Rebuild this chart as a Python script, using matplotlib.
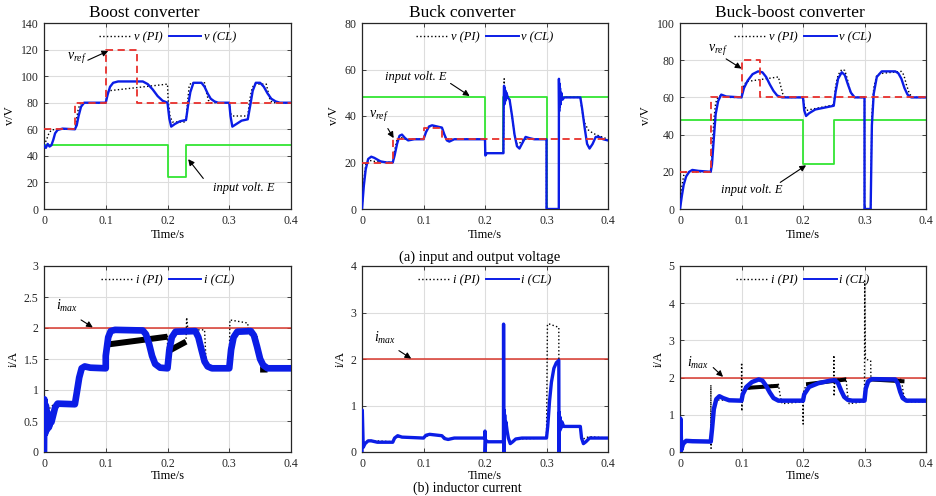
import numpy as np
import matplotlib.pyplot as plt
from matplotlib.lines import Line2D

plt.rcParams['font.family'] = ['Liberation Serif', 'DejaVu Serif']
plt.rcParams['mathtext.fontset'] = 'custom'
plt.rcParams['mathtext.rm'] = 'Liberation Serif'
plt.rcParams['mathtext.it'] = 'Liberation Serif:italic'

nan = float('nan')

# ---------------- data: (time [s], value) ----------------
# Boost converter, voltage
bo_ref = [(0, 60), (0.05, 60), (0.05, 80), (0.1, 80), (0.1, 120), (0.15, 120), (0.15, 80), (0.4, 80)]
bo_E = [(0, 48), (0.2, 48), (0.2, 24), (0.23, 24), (0.23, 48), (0.4, 48)]
bo_v_cl = [(0, 48), (0.003, 46), (0.006, 49), (0.009, 47), (0.012, 48), (0.015, 52), (0.018, 57),
           (0.022, 59.5), (0.03, 60.5), (0.05, 60), (0.053, 63), (0.056, 70), (0.06, 77), (0.065, 80),
           (0.1, 80), (0.103, 86), (0.107, 92), (0.112, 95), (0.12, 96), (0.16, 96), (0.168, 94),
           (0.176, 90), (0.184, 85), (0.192, 81.5), (0.2, 80), (0.203, 68), (0.206, 62), (0.212, 64),
           (0.22, 66), (0.23, 67), (0.233, 77), (0.237, 88), (0.242, 95), (0.255, 95), (0.26, 92),
           (0.265, 87), (0.27, 83), (0.276, 81), (0.282, 80), (0.3, 80), (0.302, 70), (0.305, 62),
           (0.31, 63.5), (0.32, 66.5), (0.33, 67.5), (0.334, 78), (0.338, 89), (0.343, 95), (0.35, 95),
           (0.356, 92), (0.362, 87), (0.368, 83), (0.375, 81), (0.382, 80), (0.4, 80)]
bo_v_pi = [(0, 48), (0.004, 52), (0.008, 57), (0.012, 59.5), (0.02, 60), (0.05, 60), (0.052, 66),
           (0.055, 74), (0.058, 79), (0.062, 80), (0.1, 80), (0.102, 86), (0.105, 89), (0.2, 94),
           (0.201, 82), (0.204, 70), (0.208, 65.5), (0.23, 65.5), (0.232, 78), (0.235, 92), (0.238, 95),
           (0.26, 95), (0.263, 88), (0.266, 82), (0.27, 80), (0.3, 80), (0.302, 72), (0.305, 70),
           (0.33, 70), (0.333, 82), (0.337, 91), (0.341, 94), (0.36, 94), (0.363, 88), (0.366, 82),
           (0.37, 80), (0.4, 80)]

# Buck converter, voltage
bu_ref = [(0, 20), (0.05, 20), (0.05, 30), (0.1, 30), (0.1, 35), (0.13, 35), (0.13, 30), (0.4, 30)]
bu_E = [(0, 48), (0.2, 48), (0.2, 24), (0.23, 24), (0.23, 48), (0.3, 48), (0.3, 0), (0.32, 0),
        (0.32, 48), (0.4, 48)]
bu_v_cl = [(0, 0), (0.003, 10), (0.006, 17), (0.01, 21.5), (0.015, 22.5), (0.02, 22), (0.03, 20.5),
           (0.04, 20), (0.05, 20), (0.053, 23), (0.057, 28), (0.061, 31.5), (0.065, 32), (0.07, 30.5),
           (0.075, 29.5), (0.085, 30), (0.1, 30), (0.104, 33), (0.109, 35.5), (0.114, 36), (0.122, 35.5),
           (0.13, 35), (0.134, 32), (0.138, 29.5), (0.142, 29), (0.15, 30), (0.2, 30), (0.2005, 23),
           (0.203, 24), (0.23, 24), (0.2305, 48), (0.231, 53), (0.2315, 45), (0.232, 52), (0.2325, 46),
           (0.233, 51), (0.234, 47), (0.235, 50), (0.237, 48), (0.24, 47), (0.244, 40), (0.248, 32),
           (0.252, 27), (0.256, 26), (0.261, 28.5), (0.266, 31), (0.272, 30.5), (0.28, 30), (0.3, 30),
           (0.3, 0), (0.32, 0), (0.3202, 56), (0.3206, 42), (0.321, 54), (0.3215, 44), (0.322, 52),
           (0.323, 45), (0.324, 50), (0.326, 47), (0.329, 48), (0.355, 48), (0.358, 43), (0.362, 35),
           (0.366, 28), (0.37, 26), (0.375, 28), (0.38, 31), (0.386, 31), (0.392, 30), (0.4, 29.5)]
bu_v_pi = [(0, 0), (0.003, 12), (0.006, 19), (0.01, 21), (0.02, 20.5), (0.05, 20), (0.053, 25),
           (0.057, 30), (0.062, 31), (0.07, 30), (0.1, 30), (0.105, 34), (0.11, 35.5), (0.13, 35),
           (0.135, 31), (0.14, 30), (0.2, 30), (0.2005, 23), (0.203, 24), (0.23, 24), (0.2305, 50),
           (0.2312, 56), (0.232, 46), (0.233, 52), (0.234, 47), (0.236, 49), (0.24, 47), (0.244, 40),
           (0.248, 32), (0.252, 28), (0.257, 28.5), (0.262, 30), (0.27, 30), (0.3, 30), (0.3, 0),
           (0.32, 0), (0.3202, 55), (0.321, 45), (0.322, 51), (0.324, 47), (0.328, 48), (0.355, 48),
           (0.358, 42), (0.362, 37), (0.368, 34), (0.376, 32.5), (0.385, 31.5), (0.4, 30)]

# Buck-boost converter, voltage
bb_ref = [(0, 20), (0.05, 20), (0.05, 60), (0.1, 60), (0.1, 80), (0.13, 80), (0.13, 60), (0.4, 60)]
bb_E = [(0, 48), (0.2, 48), (0.2, 24), (0.25, 24), (0.25, 48), (0.4, 48)]
bb_v_cl = [(0, 0), (0.003, 7), (0.006, 13), (0.01, 17.5), (0.015, 20), (0.02, 21), (0.03, 20.5),
           (0.05, 20), (0.052, 24), (0.055, 38), (0.058, 51), (0.062, 58), (0.067, 61.5), (0.075, 60.5),
           (0.1, 60), (0.104, 65), (0.11, 69), (0.118, 72.5), (0.127, 74), (0.134, 73.5), (0.14, 71),
           (0.146, 67), (0.152, 63.5), (0.158, 61), (0.166, 60), (0.2, 60), (0.202, 53), (0.205, 50),
           (0.21, 51.5), (0.22, 53.5), (0.25, 55.5), (0.253, 63), (0.257, 70), (0.263, 73.5),
           (0.268, 72), (0.273, 67), (0.278, 62.5), (0.284, 60), (0.3, 60), (0.3, 0), (0.31, 0),
           (0.312, 45), (0.315, 62), (0.32, 71), (0.328, 74), (0.35, 74), (0.355, 73), (0.36, 70),
           (0.365, 65), (0.37, 61.5), (0.376, 60), (0.4, 60)]
bb_v_pi = [(0, 0), (0.003, 12), (0.006, 18), (0.01, 20), (0.05, 20), (0.052, 30), (0.055, 48),
           (0.058, 57), (0.062, 60.5), (0.07, 61), (0.08, 60), (0.1, 60), (0.103, 66), (0.108, 68.5),
           (0.16, 71), (0.163, 67), (0.167, 62), (0.171, 60), (0.2, 60), (0.202, 56), (0.206, 53),
           (0.212, 53.5), (0.25, 56), (0.253, 66), (0.257, 72), (0.263, 75), (0.268, 74.5), (0.272, 70),
           (0.277, 63), (0.283, 60), (0.3, 60), (0.3, 0), (0.31, 0), (0.312, 50), (0.315, 65),
           (0.32, 72), (0.33, 73), (0.36, 74), (0.364, 72), (0.368, 67), (0.373, 62), (0.378, 60),
           (0.4, 60)]

# Inductor currents
i_max = 2.0
bo_i_cl = [(0, 0), (0.0005, 0.85), (0.002, 0.3), (0.003, 0.75), (0.004, 0.35), (0.005, 0.65),
           (0.006, 0.38), (0.007, 0.6), (0.008, 0.4), (0.01, 0.5), (0.012, 0.48), (0.015, 0.6),
           (0.018, 0.72), (0.022, 0.78), (0.05, 0.77), (0.053, 0.95), (0.057, 1.2), (0.061, 1.35),
           (0.066, 1.38), (0.075, 1.36), (0.1, 1.35), (0.1, 1.55), (0.104, 1.85), (0.108, 1.95),
           (0.115, 1.97), (0.16, 1.96), (0.165, 1.9), (0.17, 1.75), (0.175, 1.55), (0.18, 1.42),
           (0.188, 1.36), (0.2, 1.35), (0.203, 1.65), (0.207, 1.85), (0.213, 1.94), (0.245, 1.95),
           (0.25, 1.85), (0.255, 1.65), (0.26, 1.46), (0.265, 1.38), (0.272, 1.35), (0.3, 1.35),
           (0.303, 1.65), (0.307, 1.85), (0.313, 1.94), (0.335, 1.95), (0.34, 1.88), (0.345, 1.7),
           (0.35, 1.5), (0.355, 1.4), (0.362, 1.35), (0.4, 1.35)]
bo_i_pi = [(0, 0), (0.002, 0.5), (0.005, 0.62), (0.01, 0.72), (0.015, 0.76), (0.022, 0.78),
           (0.05, 0.77), (0.053, 1.0), (0.058, 1.3), (0.064, 1.37), (0.1, 1.35), (0.1, 1.7),
           (0.2, 1.88), (0.2, 1.45), (0.203, 1.62), (0.23, 1.8), (0.231, 2.17), (0.233, 1.97),
           (0.26, 1.97), (0.262, 1.55), (0.266, 1.33), (0.3, 1.33), (0.301, 2.13), (0.33, 2.08),
           (0.331, 1.9), (0.345, 1.86), (0.348, 1.6), (0.352, 1.38), (0.356, 1.32), (0.4, 1.33)]
bo_i_pi_band = [(0.1, 1.73), (0.2, 1.86), (nan, nan), (0.202, 1.63), (0.23, 1.78), (nan, nan),
                (0.35, 1.33), (0.362, 1.33)]

bu_i_cl = [(0, 0), (0.0005, 0.9), (0.002, 0.1), (0.005, 0.18), (0.01, 0.24), (0.015, 0.24),
           (0.025, 0.21), (0.05, 0.21), (0.053, 0.3), (0.058, 0.35), (0.065, 0.32), (0.1, 0.3),
           (0.104, 0.36), (0.11, 0.38), (0.13, 0.35), (0.134, 0.29), (0.14, 0.27), (0.15, 0.3),
           (0.2, 0.3), (0.2, 0.45), (0.2003, 0.0), (0.201, 0.25), (0.205, 0.22), (0.23, 0.22),
           (0.2302, 2.75), (0.2306, 0.0), (0.231, 0.9), (0.2315, 0.5), (0.232, 0.8), (0.233, 0.55),
           (0.234, 0.65), (0.236, 0.45), (0.238, 0.3), (0.241, 0.18), (0.245, 0.22), (0.25, 0.28),
           (0.26, 0.3), (0.3, 0.3), (0.302, 0.55), (0.305, 1.1), (0.308, 1.5), (0.312, 1.8),
           (0.316, 1.92), (0.32, 1.97), (0.3203, 0.0), (0.3208, 0.85), (0.3213, 0.45), (0.322, 0.75),
           (0.323, 0.5), (0.325, 0.65), (0.328, 0.55), (0.332, 0.55), (0.355, 0.55), (0.357, 0.3),
           (0.36, 0.18), (0.364, 0.22), (0.37, 0.3), (0.38, 0.3), (0.4, 0.3)]
bu_i_pi = [(0, 0), (0.0005, 0.9), (0.002, 0.12), (0.005, 0.2), (0.01, 0.25), (0.05, 0.22),
           (0.055, 0.32), (0.065, 0.32), (0.1, 0.3), (0.11, 0.37), (0.13, 0.35), (0.14, 0.28),
           (0.15, 0.3), (0.2, 0.3), (0.201, 0.22), (0.23, 0.22), (0.2302, 2.7), (0.2306, 0.0),
           (0.231, 0.8), (0.234, 0.6), (0.238, 0.3), (0.242, 0.2), (0.25, 0.28), (0.3, 0.3),
           (0.3015, 2.75), (0.305, 2.75), (0.32, 2.68), (0.3203, 0.0), (0.3208, 0.8), (0.325, 0.6),
           (0.33, 0.55), (0.355, 0.55), (0.358, 0.25), (0.362, 0.3), (0.37, 0.33), (0.4, 0.3)]

bb_i_cl = [(0, 0), (0.0005, 0.9), (0.002, 0.05), (0.005, 0.22), (0.01, 0.3), (0.02, 0.29),
           (0.05, 0.28), (0.052, 0.6), (0.055, 1.15), (0.059, 1.42), (0.064, 1.5), (0.07, 1.45),
           (0.08, 1.39), (0.1, 1.38), (0.102, 1.55), (0.108, 1.75), (0.117, 1.88), (0.128, 1.95),
           (0.134, 1.92), (0.14, 1.78), (0.146, 1.6), (0.152, 1.45), (0.16, 1.38), (0.2, 1.38),
           (0.202, 1.55), (0.21, 1.75), (0.225, 1.85), (0.245, 1.92), (0.252, 1.93), (0.257, 1.85),
           (0.262, 1.65), (0.267, 1.48), (0.273, 1.4), (0.28, 1.38), (0.3, 1.38), (0.302, 1.7),
           (0.306, 1.9), (0.312, 1.96), (0.35, 1.95), (0.354, 1.85), (0.358, 1.62), (0.362, 1.45),
           (0.368, 1.38), (0.4, 1.38)]
bb_i_pi = [(0, 0), (0.001, 0.2), (0.005, 0.28), (0.05, 0.28), (0.0502, 1.8), (0.0505, 0.1),
           (0.052, 1.0), (0.056, 1.35), (0.06, 1.4), (0.1, 1.38), (0.1002, 2.4), (0.1005, 1.1),
           (0.102, 1.6), (0.105, 1.68), (0.16, 1.82), (0.163, 1.5), (0.166, 1.3), (0.2, 1.35),
           (0.2002, 0.75), (0.2006, 1.6), (0.205, 1.8), (0.25, 1.9), (0.2502, 2.6), (0.2505, 1.5),
           (0.252, 1.95), (0.27, 1.98), (0.272, 1.6), (0.275, 1.3), (0.3, 1.35), (0.3003, 4.6),
           (0.3015, 2.5), (0.31, 2.45), (0.3105, 1.95), (0.36, 1.95), (0.363, 1.6), (0.367, 1.35),
           (0.4, 1.35)]
bb_i_pi_band = [(0.105, 1.72), (0.16, 1.78), (nan, nan), (0.205, 1.82), (0.27, 1.95), (nan, nan),
                (0.31, 1.95), (0.365, 1.9)]

t_ticks = [0, 0.1, 0.2, 0.3, 0.4]

BLUE = '#0b1de6'
RED = '#e8302c'
GREEN = '#33e533'


def xy(pairs):
    a = np.array(pairs, dtype=float)
    return a[:, 0], a[:, 1]


def style(ax, ymax, ystep, ylabel, xpad):
    ax.set_xlim(0, 0.4)
    ax.set_ylim(0, ymax)
    ax.set_xticks(t_ticks)
    ax.set_xticklabels([f'{v:g}' for v in t_ticks])
    yt = np.arange(0, ymax + ystep / 2, ystep)
    ax.set_yticks(yt)
    ax.set_yticklabels([f'{v:g}' for v in yt])
    ax.grid(True, color='#dddddd', lw=0.8)
    ax.set_axisbelow(True)
    ax.tick_params(direction='in', top=True, right=True, labelsize=8.5, length=3, width=0.6, pad=4,
                   colors='#262626')
    for s in ax.spines.values():
        s.set_linewidth(0.9)
        s.set_color('#262626')
    ax.set_xlabel('Time/s', fontsize=9, labelpad=xpad)
    ax.set_ylabel(ylabel, fontsize=9, labelpad=3)


def legend(ax, name):
    h = [Line2D([], [], color='k', ls=':', lw=1.0), Line2D([], [], color=BLUE, lw=1.4)]
    ax.legend(h, [f'{name} (PI)', f'{name} (CL)'], loc='upper center', ncol=2, frameon=False,
              prop=dict(style='italic', size=9), handlelength=2.6, handletextpad=0.2,
              columnspacing=0.5, borderaxespad=0.3)


def arrow(ax, tail, tip):
    ax.annotate('', xy=tip, xytext=tail,
                arrowprops=dict(arrowstyle='-|>', color='k', lw=0.8, mutation_scale=9,
                                shrinkA=0, shrinkB=0))


fig = plt.figure(figsize=(9.36, 4.96), dpi=100)
W, H = 936, 496
cols = [(44, 291), (362, 608), (680, 926)]
rows = [(23, 209), (266, 452)]
axs = [[fig.add_axes([l / W, 1 - b / H, (r - l) / W, (b - t) / H]) for (l, r) in cols] for (t, b) in rows]

volt = [(bo_ref, bo_E, bo_v_pi, bo_v_cl, 140), (bu_ref, bu_E, bu_v_pi, bu_v_cl, 80),
        (bb_ref, bb_E, bb_v_pi, bb_v_cl, 100)]
titles = ['Boost converter', 'Buck converter', 'Buck-boost converter']
title_x = [0.405, 0.407, 0.447]

for k, (ref, E, pi, cl, ymax) in enumerate(volt):
    ax = axs[0][k]
    ax.plot(*xy(E), color=GREEN, lw=1.3, zorder=2)
    ax.plot(*xy(pi), color='k', ls=':', lw=1.0, zorder=3)
    ax.plot(*xy(cl), color=BLUE, lw=1.7, zorder=4)
    ax.plot(*xy(ref), color=RED, lw=1.3, dashes=(4, 2.5), zorder=5)
    style(ax, ymax, 20, 'v/V', 1.5)
    legend(ax, 'v')
    ax.text(title_x[k], 1.01, titles[k], transform=ax.transAxes, ha='center', va='bottom', fontsize=12.5)

# annotations, voltage row
a = axs[0][0]
a.text(0.038, 114, r'$v_{ref}$', fontsize=10, ha='left', va='center')
arrow(a, (0.071, 112), (0.104, 119))
a.text(0.323, 16, 'input volt. E', fontsize=9, style='italic', ha='center', va='center')
arrow(a, (0.258, 23), (0.2335, 37.5))

a = axs[0][1]
a.text(0.087, 56.7, 'input volt. E', fontsize=9, style='italic', ha='center', va='center')
arrow(a, (0.144, 54), (0.175, 48.6))
a.text(0.012, 40, r'$v_{ref}$', fontsize=10, ha='left', va='center')
arrow(a, (0.042, 34.6), (0.0515, 30.5))

a = axs[0][2]
a.text(0.045, 86, r'$v_{ref}$', fontsize=10, ha='left', va='center')
arrow(a, (0.075, 80.7), (0.1, 75.5))
a.text(0.1165, 10, 'input volt. E', fontsize=9, style='italic', ha='center', va='center')
arrow(a, (0.163, 14.3), (0.205, 23.5))

# current row
curr = [(bo_i_pi, bo_i_cl, bo_i_pi_band, 3, 0.5, 4.8), (bu_i_pi, bu_i_cl, None, 4, 1, 2.4),
        (bb_i_pi, bb_i_cl, bb_i_pi_band, 5, 1, 3.2)]
imax_txt = [(0.02, 2.36, (0.06, 2.13), (0.079, 2.01)), (0.02, 2.46, (0.06, 2.18), (0.08, 2.01)),
            (0.012, 2.4, (0.054, 2.27), (0.07, 2.02))]

for k, (pi, cl, band, ymax, ystep, lw) in enumerate(curr):
    ax = axs[1][k]
    ax.axhline(i_max, color='#d9382e', lw=1.1, zorder=2)
    if band is not None:
        ax.plot(*xy(band), color='k', lw=lw * 0.9, solid_capstyle='butt', zorder=3)
    ax.plot(*xy(pi), color='k', ls=':', lw=1.0, zorder=3)
    ax.plot(*xy(cl), color=BLUE, lw=lw, zorder=4)
    style(ax, ymax, ystep, 'i/A', 0.5)
    legend(ax, 'i')
    tx, ty, tail, tip = imax_txt[k]
    ax.text(tx, ty, r'$i_{max}$', fontsize=10, ha='left', va='center')
    arrow(ax, tail, tip)

fig.text(480 / W, 1 - 257 / H, '(a) input and output voltage', ha='center', va='center', fontsize=10.5)
fig.text(467 / W, 1 / H, '(b) inductor current', ha='center', va='bottom', fontsize=10)

fig.savefig('out.png', dpi=100)
